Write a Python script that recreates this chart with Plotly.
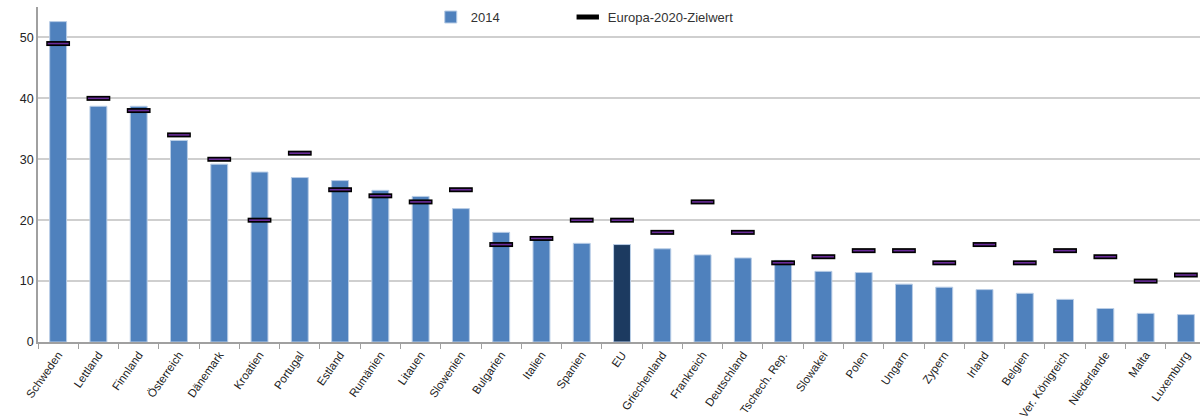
import plotly.graph_objects as go

countries = ["Schweden", "Lettland", "Finnland", "Österreich", "Dänemark", "Kroatien",
             "Portugal", "Estland", "Rumänien", "Litauen", "Slowenien", "Bulgarien",
             "Italien", "Spanien", "EU", "Griechenland", "Frankreich", "Deutschland",
             "Tschech. Rep.", "Slowakei", "Polen", "Ungarn", "Zypern", "Irland",
             "Belgien", "Ver. Königreich", "Niederlande", "Malta", "Luxemburg"]
values_2014 = [52.6, 38.7, 38.7, 33.1, 29.2, 27.9, 27.0, 26.5, 24.9, 23.9, 21.9, 18.0,
               17.1, 16.2, 16.0, 15.3, 14.3, 13.8, 13.4, 11.6, 11.4, 9.5, 9.0, 8.6,
               8.0, 7.0, 5.5, 4.7, 4.5]
targets_2020 = [49, 40, 38, 34, 30, 20, 31, 25, 24, 23, 25, 16, 17, 20, 20, 18, 23, 18,
                13, 14, 15, 15, 13, 16, 13, 15, 14, 10, 11]
y_ticks = [0, 10, 20, 30, 40, 50]

bar_colors = ["#1c3a60" if c == "EU" else "#4f81bd" for c in countries]

fig = go.Figure()
fig.add_trace(go.Bar(
    x=countries, y=values_2014, name="2014", legendwidth=92,
    marker=dict(color=bar_colors, line=dict(color="#b9cde6", width=1)),
))
fig.add_trace(go.Scatter(
    x=countries, y=targets_2020, mode="markers", name="Europa-2020-Zielwert",
    legendwidth=200,
    marker=dict(symbol="line-ew", size=17, line=dict(color="#000000", width=5)),
))
fig.add_trace(go.Scatter(
    x=countries, y=targets_2020, mode="markers", showlegend=False, hoverinfo="skip",
    marker=dict(symbol="line-ew", size=15, line=dict(color="#6a2c9a", width=1.6)),
))

fig.update_layout(
    width=1200, height=420,
    margin=dict(l=38, r=0, t=7, b=73),
    paper_bgcolor="white", plot_bgcolor="white",
    font=dict(family="Liberation Sans, Arial, sans-serif", size=11, color="#222"),
    bargap=0.58,
    showlegend=True,
    legend=dict(orientation="h", x=0.338, y=0.97, xanchor="left", yanchor="middle",
                font=dict(size=13, color="#333"), bgcolor="rgba(0,0,0,0)",
                itemwidth=30, traceorder="normal"),
    xaxis=dict(
        type="category", range=[-0.5, 28.35], tickangle=-55,
        showline=True, linecolor="#a0a0a0", linewidth=1.5,
        ticks="outside", tickson="boundaries", ticklen=5, tickcolor="#a0a0a0",
        tickfont=dict(size=11.5, color="#222"), showgrid=False,
    ),
    yaxis=dict(
        range=[0, 55], tickvals=y_ticks, ticktext=[str(v) for v in y_ticks],
        showline=True, linecolor="#a0a0a0", linewidth=1.5,
        showgrid=True, gridcolor="#cfcfcf", gridwidth=1.5,
        zeroline=False, ticks="", tickfont=dict(size=12.5, color="#222"),
    ),
)

fig.write_html("out.html", config={"displayModeBar": False},
               post_script="document.body.style.margin='0';document.body.style.overflow='hidden';")
